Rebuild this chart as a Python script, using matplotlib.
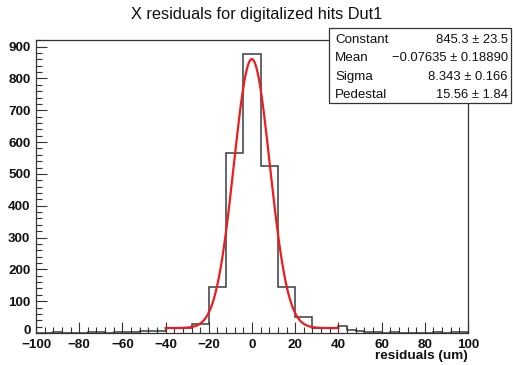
import numpy as np
import matplotlib
matplotlib.use("Agg")
import matplotlib.pyplot as plt
from matplotlib.ticker import MultipleLocator
from matplotlib.transforms import ScaledTranslation

# ---- data ----
x_min, x_max, bin_width = -100, 100, 4
counts = [0, 0, 2, 1, 1, 0, 2, 2, 1, 2,
          4, 4, 5, 6, 6, 17, 17, 17, 28, 28,
          144, 144, 565, 565, 877, 877, 526, 526, 144, 144,
          51, 51, 17, 17, 17, 21, 8, 7, 3, 2,
          1, 2, 1, 1, 0, 1, 2, 1, 4, 3]
fit_names = ["Constant", "Mean", "Sigma", "Pedestal"]
fit_values = [845.3, -0.07635, 8.343, 15.56]
fit_errors = [23.5, 0.18890, 0.166, 1.84]
fit_texts = ["845.3 \u00b1 23.5", "\u22120.07635 \u00b1 0.18890",
             "8.343 \u00b1 0.166", "15.56 \u00b1 1.84"]
fit_range = [-40, 40]
title = "X residuals for digitalized hits Dut1"
xlabel = "residuals (um)"

W, H = 513, 365
fig = plt.figure(figsize=(W / 100, H / 100), dpi=100)
L, R, T, B = 36, 468, 40, 333
ax = fig.add_axes([L / W, (H - B) / H, (R - L) / W, (B - T) / H])

edges = np.arange(x_min, x_max + bin_width, bin_width)
ax.stairs(counts, edges, color="#353e45", linewidth=1.1, baseline=0)

c, m, s, p = fit_values
xf = np.linspace(fit_range[0], fit_range[1], 600)
yf = c * np.exp(-0.5 * ((xf - m) / s) ** 2) + p
ax.plot(xf, yf, color="#ee1c1c", linewidth=1.6)

ax.set_xlim(x_min, x_max)
ax.set_ylim(0, max(counts) * 1.05)

bold = dict(family="Liberation Sans", weight="bold", size=9.7, color="#111111")
ax.xaxis.set_minor_locator(MultipleLocator(4))
ax.yaxis.set_minor_locator(MultipleLocator(20))
ax.tick_params(which="both", direction="in", top=False, right=False,
               color="#333333", width=0.8)
ax.tick_params(which="major", axis="x", length=8, pad=4)
ax.tick_params(which="minor", axis="x", length=4)
ax.tick_params(which="major", axis="y", length=8, pad=4)
ax.tick_params(which="minor", axis="y", length=4)
xt = np.arange(x_min, x_max + 1, 20)
ax.set_xticks(xt)
ax.set_xticklabels([("\u2212" + str(abs(v)) if v < 0 else str(v)) for v in xt], **bold)
yt = np.arange(0, 901, 100)
ax.set_yticks(yt)
ylabels = ax.set_yticklabels([str(v) for v in yt], **bold)
ylabels[0].set_transform(ylabels[0].get_transform() +
                         ScaledTranslation(0, 3 / 100, fig.dpi_scale_trans))
for sp in ax.spines.values():
    sp.set_color("#333333")
    sp.set_linewidth(0.9)

fig.text(R / W, 1 - 356 / H, xlabel, ha="right", va="center", **bold)
fig.text(257 / W, 1 - 14 / H, title, ha="center", va="center",
         family="Liberation Sans", size=11.8, color="#111111")

# stats box
bx0, bx1, by0, by1 = 329, 511, 28, 103
box = plt.Rectangle((bx0 / W, 1 - by1 / H), (bx1 - bx0) / W, (by1 - by0) / H,
                    transform=fig.transFigure, facecolor="white",
                    edgecolor="#333333", linewidth=0.9, zorder=10)
fig.patches.append(box)
for i, (n, t) in enumerate(zip(fit_names, fit_texts)):
    yy = 1 - (40 + i * 18.3) / H
    fig.text(335 / W, yy, n, ha="left", va="center", family="Liberation Sans",
             size=9.6, color="#111111", zorder=11)
    fig.text(508 / W, yy, t, ha="right", va="center", family="Liberation Sans",
             size=9.4, color="#111111", zorder=11)

fig.savefig("out.png", dpi=100)
